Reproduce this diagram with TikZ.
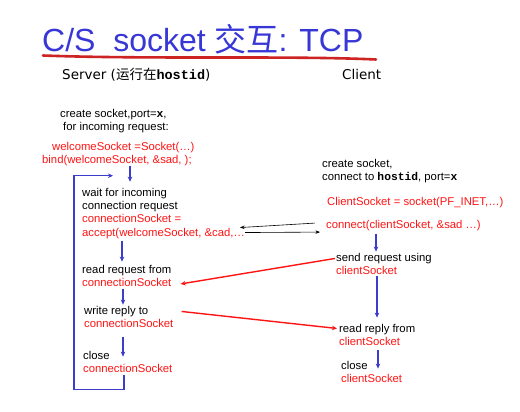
\documentclass[tikz,border=0pt]{standalone}
\usepackage{fontspec}
\setmainfont{Liberation Sans}
\newfontfamily\cjk{Noto Sans CJK SC}
\newfontfamily\cour{Liberation Mono}
\newfontfamily\hand{DejaVu Sans}
\usetikzlibrary{arrows.meta,calc}

\definecolor{titleblue}{RGB}{55,55,215}
\definecolor{flowblue}{RGB}{60,60,205}
\definecolor{sockred}{RGB}{255,20,20}
\definecolor{inkred}{RGB}{205,35,35}

\newcommand{\rd}[1]{{\color{sockred}#1}}
\newcommand{\cb}[1]{{\cour\bfseries #1}}

% multi-line nodes are placed by the baseline of their last line
\tikzset{
  txt/.style={anchor=base west, inner sep=0pt, align=left,
              font=\fontsize{11.3}{13}\selectfont},
  lbl/.style={anchor=base west, inner sep=0pt, font=\hand\fontsize{13.5}{15}\selectfont},
  flow/.style={draw=flowblue, line width=1.5pt,
               -{Stealth[length=5pt,width=4.5pt]}},
  msg/.style={draw=sockred, line width=1.4pt,
              -{Stealth[length=5pt,width=4.5pt]}},
  sync/.style={draw=black, line width=0.6pt,
               -{Stealth[length=4.5pt,width=3.5pt]}}
}

\begin{document}
\begin{tikzpicture}[x=1pt,y=-1pt]
\useasboundingbox[fill=white] (0,0) rectangle (520,412);

% heading
\node[anchor=base west, inner sep=0pt, text=titleblue,
      font=\fontsize{32}{32}\selectfont] (title) at (42,52)
  {C/S\ \ socket {\cjk 交互}: TCP};
\draw[inkred, line width=2.6pt, line cap=round]
  (43,55.5) .. controls (150,59.5) and (290,55.5) .. (376,59.5);

\node[lbl] (server) at (62,80) {Server ({\cjk 运行在}\cb{hostid})};
\node[lbl] (client) at (342,80) {Client};

% server side
\node[txt] (screate) at (60,130)
  {create socket,port=\cb{x},\\\hspace*{3pt}for incoming request:};
\node[txt] (ssock) at (42,163)
  {\hspace*{10pt}\rd{welcomeSocket =Socket(…)}\\\rd{bind(welcomeSocket, \&sad, );}};
\node[txt, font=\fontsize{11.3}{13.3}\selectfont] (swait) at (82,236)
  {wait for incoming\\connection request\\\rd{connectionSocket =}\\\rd{accept(welcomeSocket, \&cad,…}};
\node[txt] (sread) at (82,286) {read request from\\\rd{connectionSocket}};
\node[txt] (swrite) at (84,327) {write reply to\\\rd{connectionSocket}};
\node[txt] (sclose) at (83,372) {close\\\rd{connectionSocket}};

% client side
\node[txt] (ccreate) at (322,180)
  {create socket,\\connect to \cb{hostid}, port=\cb{x}};
\node[txt] (csock) at (327,205) {\rd{ClientSocket = socket(PF\_INET,…)}};
\node[txt] (cconn) at (326,228) {\rd{connect(clientSocket, \&sad …)}};
\node[txt] (csend) at (336,274) {send request using\\\rd{clientSocket}};
\node[txt] (cread) at (339,345) {read reply from\\\rd{clientSocket}};
\node[txt] (cclose) at (341,382) {close\\\rd{clientSocket}};

% server flow
\draw[flow] ([shift={(88,0)}]ssock.south west) -- ([shift={(48,-6)}]swait.north west);
\draw[flow] ([shift={(40,2)}]swait.south west) -- ([shift={(40,-3)}]sread.north west);
\draw[flow] ([shift={(41,3)}]sread.south west) -- ([shift={(39,-1)}]swrite.north west);
\draw[flow] ([shift={(39,10)}]swrite.south west) -- ([shift={(40,6)}]sclose.north west);
\draw[flow] ([shift={(41,3)}]sclose.south west) -- ++(0,14)
  -| ([shift={(-8,-12)}]swait.north west) -- ([shift={(31,-12)}]swait.north west);

% client flow
\draw[flow] ([shift={(50,3)}]cconn.south west) -- ([shift={(40,-1)}]csend.north west);
\draw[flow] ([shift={(41,2)}]csend.south west) -- ([shift={(38,-6)}]cread.north west);
\draw[flow] ([shift={(39,5)}]cread.south west) -- ([shift={(37,8)}]cclose.north west);

% connection setup
\draw[sync] ([shift={(-11,-2)}]cconn.west) -- ([shift={(-5,-11)}]swait.south east);
\draw[sync] ([shift={(0,-6)}]swait.south east) -- ([shift={(-6,7)}]cconn.west);

% request and reply
\draw[msg] ([shift={(-1,-5)}]csend.west) -- ([shift={(9,8.5)}]sread.east);
\draw[msg] ([shift={(8,-5)}]swrite.east) -- ([shift={(-2,-6)}]cread.west);
\end{tikzpicture}
\end{document}
